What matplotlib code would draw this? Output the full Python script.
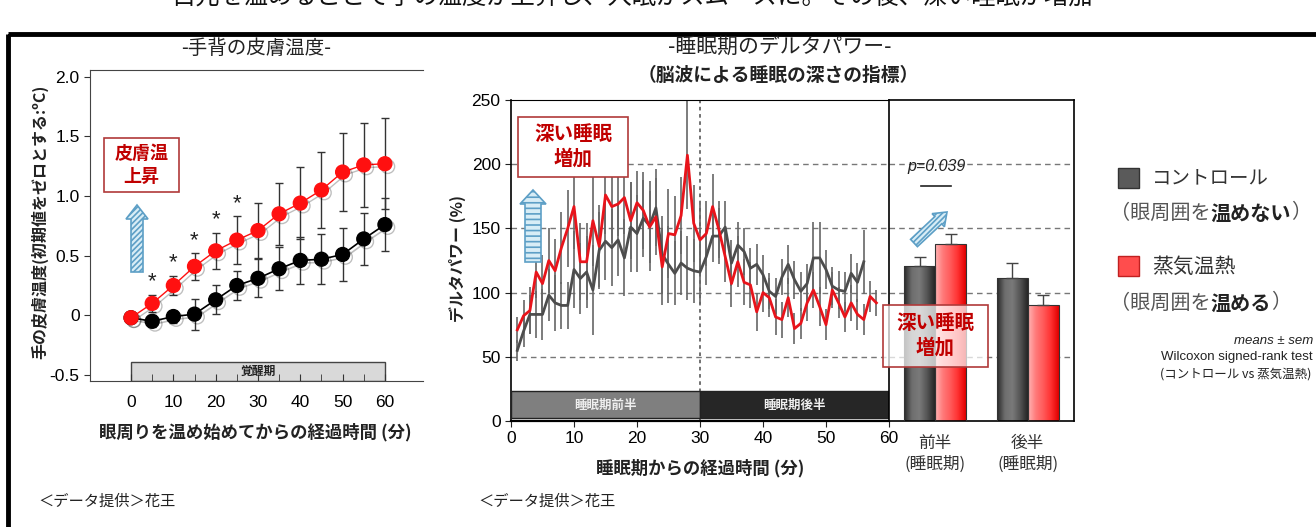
import matplotlib
matplotlib.use('Agg')
import matplotlib.pyplot as plt
import matplotlib.patches as mpatches
import matplotlib.patheffects as pe
from matplotlib.colors import LinearSegmentedColormap
import numpy as np

plt.rcParams['font.family'] = ['Noto Sans CJK JP', 'DejaVu Sans']
plt.rcParams['hatch.linewidth'] = 1.2

# ---- left chart: hand skin temperature ----
temp_min = [0, 5, 10, 15, 20, 25, 30, 35, 40, 45, 50, 55, 60]
steam_temp = [-0.02, 0.10, 0.25, 0.41, 0.54, 0.63, 0.71, 0.85, 0.94, 1.05, 1.20, 1.26, 1.27]
steam_temp_err = [0.0, 0.07, 0.08, 0.11, 0.15, 0.20, 0.23, 0.26, 0.30, 0.32, 0.33, 0.35, 0.38]
ctrl_temp = [-0.02, -0.05, -0.01, 0.01, 0.13, 0.25, 0.31, 0.39, 0.46, 0.47, 0.51, 0.64, 0.76]
ctrl_temp_err = [0.0, 0.05, 0.05, 0.13, 0.12, 0.12, 0.16, 0.18, 0.20, 0.21, 0.22, 0.22, 0.22]
star_idx = [1, 2, 3, 4, 5]
temp_yticks = [-0.5, 0, 0.5, 1.0, 1.5, 2.0]
temp_ylabels = ['-0.5', '0', '0.5', '1.0', '1.5', '2.0']

# ---- middle chart: delta power per minute ----
steam_min = np.arange(1, 59)
steam_delta = [71, 82, 86, 116, 107, 125, 117, 135, 150, 167,
               124, 124, 156, 136, 176, 167, 169, 174, 156, 170,
               164, 151, 159, 120, 146, 145, 160, 207, 154, 141,
               146, 167, 149, 128, 107, 124, 108, 106, 85, 100,
               96, 81, 79, 96, 72, 76, 92, 102, 89, 75,
               102, 92, 81, 92, 83, 79, 97, 92]
steam_delta_err = [10, 12, 18, 20, 22, 25, 25, 28, 30, 33,
                   30, 30, 35, 32, 30, 28, 25, 28, 30, 25,
                   30, 28, 30, 30, 35, 30, 30, 42, 30, 28,
                   25, 25, 22, 20, 18, 20, 18, 18, 15, 15,
                   15, 14, 14, 15, 12, 12, 14, 14, 15, 12,
                   14, 12, 12, 14, 12, 12, 12, 10]
ctrl_min = np.arange(1, 57)
ctrl_delta = [55, 70, 83, 83, 83, 98, 92, 90, 90, 118,
              111, 116, 102, 133, 140, 135, 141, 127, 151, 146,
              158, 152, 166, 130, 122, 115, 123, 119, 117, 116,
              128, 144, 144, 151, 123, 137, 132, 119, 122, 114,
              101, 97, 112, 122, 110, 101, 107, 127, 127, 118,
              105, 102, 101, 115, 108, 124]
ctrl_delta_err = [8, 12, 15, 18, 20, 20, 22, 18, 18, 30,
                  28, 28, 35, 30, 30, 30, 28, 30, 35, 30,
                  30, 35, 30, 30, 30, 25, 25, 25, 25, 25,
                  22, 20, 22, 20, 18, 18, 18, 16, 16, 15,
                  14, 14, 14, 15, 15, 15, 15, 28, 28, 15,
                  15, 15, 15, 15, 15, 25]

# ---- bar panel: half averages ----
half_labels = ['前半\n(睡眠期)', '後半\n(睡眠期)']
ctrl_half = [121, 111]
ctrl_half_err = [7, 12]
steam_half = [138, 90]
steam_half_err = [8, 8]

RED = '#ff1010'
fig = plt.figure(figsize=(13.16, 5.27), dpi=100)
W, H = 1316, 527


def box(l, t, r, b):
    return [l / W, 1 - b / H, (r - l) / W, (b - t) / H]


# ================= left chart =================
ax1 = fig.add_axes(box(90, 70, 423, 381))
shadow = [pe.SimpleLineShadow(offset=(2, -2), alpha=0.25), pe.Normal()]
ax1.errorbar(temp_min, ctrl_temp, yerr=ctrl_temp_err, fmt='none', ecolor='#333', elinewidth=1, capsize=3, zorder=2)
ax1.errorbar(temp_min, steam_temp, yerr=steam_temp_err, fmt='none', ecolor='#333', elinewidth=1, capsize=3, zorder=2)
ax1.plot(temp_min, ctrl_temp, '-o', color='black', ms=10, lw=1.2, zorder=3, path_effects=shadow)
ax1.plot(temp_min, steam_temp, '-o', color=RED, mfc=RED, mec=RED, ms=10, lw=1, zorder=4, path_effects=shadow)
for i in star_idx:
    ax1.text(temp_min[i], steam_temp[i] + steam_temp_err[i] + 0.02, '*', ha='center', va='bottom',
             fontsize=16, color='#222', family=['Liberation Sans', 'DejaVu Sans'])
ax1.add_patch(mpatches.Rectangle((0, -0.55), 60, 0.16, facecolor='#d9d9d9', edgecolor='#444', lw=1, zorder=1))
ax1.text(30, -0.47, '覚醒期', ha='center', va='center', fontsize=8.5, fontweight='bold', color='#222')
ax1.set_xlim(-9.7, 69)
ax1.set_ylim(-0.55, 2.055)
ax1.set_xticks([0, 10, 20, 30, 40, 50, 60])
ax1.set_xticks(temp_min, minor=True)
ax1.set_yticks(temp_yticks)
ax1.set_yticklabels(temp_ylabels)
ax1.tick_params(axis='x', which='both', direction='in', length=5, labelsize=12.5, pad=10, color='#333')
ax1.tick_params(axis='y', direction='out', length=4, labelsize=12.5, color='#333')
for lab in ax1.get_xticklabels() + ax1.get_yticklabels():
    lab.set_family(['Liberation Sans', 'DejaVu Sans'])
ax1.spines['right'].set_visible(False)
for s in ['left', 'top', 'bottom']:
    ax1.spines[s].set_color('#444')

# ================= middle chart =================
ax2 = fig.add_axes(box(511, 100, 889, 421))
for g in [50, 100, 150, 200]:
    ax2.axhline(g, color='#777', lw=1, ls=(0, (4, 3)), zorder=0)
ax2.axvline(30, color='#666', lw=1.3, ls=(0, (2, 2)), zorder=1)
ax2.vlines(ctrl_min, np.array(ctrl_delta) - ctrl_delta_err, np.array(ctrl_delta) + ctrl_delta_err,
           color='#666', lw=1.2, zorder=2)
ax2.vlines(steam_min, np.array(steam_delta) - steam_delta_err, np.array(steam_delta) + steam_delta_err,
           color='#666', lw=1.2, zorder=2)
ax2.plot(ctrl_min, ctrl_delta, color='#4d4d4d', lw=2, zorder=3)
ax2.plot(steam_min, steam_delta, color='#e8141b', lw=2, zorder=4)
ax2.add_patch(mpatches.Rectangle((0, 2), 30, 21, facecolor='#7f7f7f', edgecolor='#222', lw=1, zorder=5))
ax2.add_patch(mpatches.Rectangle((30, 2), 30, 21, facecolor='#262626', edgecolor='#222', lw=1, zorder=5))
ax2.text(15, 12.5, '睡眠期前半', ha='center', va='center', color='#eee', fontsize=9, fontweight='bold', zorder=6)
ax2.text(45, 12.5, '睡眠期後半', ha='center', va='center', color='#eee', fontsize=9, fontweight='bold', zorder=6)
ax2.set_xlim(0, 60)
ax2.set_ylim(0, 250)
ax2.set_xticks([0, 10, 20, 30, 40, 50, 60])
ax2.set_yticks([0, 50, 100, 150, 200, 250])
ax2.tick_params(axis='both', direction='out', length=4, labelsize=12.5, color='#222')
for lab in ax2.get_xticklabels() + ax2.get_yticklabels():
    lab.set_family(['Liberation Sans', 'DejaVu Sans'])
ax2.spines['right'].set_visible(False)
ax2.spines['bottom'].set_linewidth(1.6)
ax2.spines['left'].set_linewidth(1.2)

# ================= bar panel =================
ax3 = fig.add_axes(box(889, 100, 1074, 421))
for g in [50, 100, 150, 200]:
    ax3.axhline(g, color='#777', lw=1, ls=(0, (4, 3)), zorder=0)
ctrl_pos = np.array([1, 4])
steam_pos = ctrl_pos + 1
b_ctrl = ax3.bar(ctrl_pos, ctrl_half, width=1, facecolor='none', edgecolor='#333', lw=0.8, zorder=3)
b_steam = ax3.bar(steam_pos, steam_half, width=1, facecolor='none', edgecolor='#333', lw=0.8, zorder=3)


def shade(bars, cols):
    cmap = LinearSegmentedColormap.from_list('g', cols)
    grad = np.linspace(0, 1, 64).reshape(1, -1)
    for b in bars:
        x0, y0 = b.get_xy()
        im = ax3.imshow(grad, cmap=cmap, extent=(x0, x0 + b.get_width(), y0, y0 + b.get_height()),
                        aspect='auto', zorder=2, interpolation='bicubic')
        im.set_clip_path(b)


shade(b_ctrl, ['#2a2a2a', '#6e6e6e', '#7a7a7a', '#555555', '#262626'])
shade(b_steam, ['#ffb4b4', '#ff7a7a', '#ff5a5a', '#ff3030', '#e00000'])
ax3.errorbar(ctrl_pos, ctrl_half, yerr=[[0, 0], ctrl_half_err], fmt='none', ecolor='#444', elinewidth=1, capsize=4, zorder=4)
ax3.errorbar(steam_pos, steam_half, yerr=[[0, 0], steam_half_err], fmt='none', ecolor='#444', elinewidth=1, capsize=4, zorder=4)
ax3.set_xlim(0, 6)
ax3.set_ylim(0, 250)
ax3.set_yticks([])
ax3.set_xticks([1.5, 4.5])
ax3.set_xticklabels(half_labels, fontsize=12, color='#333', linespacing=1.3)
ax3.tick_params(axis='x', length=0, pad=10)
for s in ax3.spines.values():
    s.set_linewidth(1.2)

# ================= overlay (titles, notes, legend) =================
ov = fig.add_axes([0, 0, 1, 1], zorder=10)
ov.set_xlim(0, W)
ov.set_ylim(H, 0)
ov.axis('off')

ov.add_patch(mpatches.Rectangle((8, 34), 1340, 520, fill=False, edgecolor='black', lw=3.5))
ov.text(632, -2, '目元を温めることで手の温度が上昇し、入眠がスムーズに。その後、深い睡眠が増加',
        ha='center', va='center', fontsize=17.5, color='#111')

ov.text(256, 48, '-手背の皮膚温度-', ha='center', va='center', fontsize=14, color='#222')
ov.text(780, 47, '-睡眠期のデルタパワー-', ha='center', va='center', fontsize=15, color='#222')
ov.text(778, 75, '（脳波による睡眠の深さの指標）', ha='center', va='center', fontsize=13.5, fontweight='bold', color='#222')

ov.text(40, 222, '手の皮膚温度(初期値をゼロとする:ºC)', rotation=90, ha='center', va='center', fontsize=11.5,
        fontweight='bold', color='#222')
ov.text(255, 432, '眼周りを温め始めてからの経過時間 (分)', ha='center', va='center', fontsize=12.5,
        fontweight='bold', color='#222')
ov.text(457, 258, 'デルタパワー (%)', rotation=90, ha='center', va='center', fontsize=11.5,
        fontweight='bold', color='#222')
ov.text(700, 468, '睡眠期からの経過時間 (分)', ha='center', va='center', fontsize=12.5,
        fontweight='bold', color='#222')

# annotation boxes
ov.add_patch(mpatches.Rectangle((104, 138), 75, 54, facecolor='white', edgecolor='#b03a3a', lw=1.2))
ov.text(141.5, 165, '皮膚温\n上昇', ha='center', va='center', fontsize=13, fontweight='bold',
        color='#c00000', linespacing=1.3)
ov.add_patch(mpatches.Rectangle((518, 117), 110, 60, facecolor='white', edgecolor='#b03a3a', lw=1.2))
ov.text(573, 147, '深い睡眠\n増加', ha='center', va='center', fontsize=14, fontweight='bold',
        color='#c00000', linespacing=1.3)
ov.add_patch(mpatches.Rectangle((883, 305), 105, 62, facecolor='white', alpha=0.72, edgecolor='none'))
ov.add_patch(mpatches.Rectangle((883, 305), 105, 62, fill=False, edgecolor='#b03a3a', lw=1.2))
ov.text(935.5, 336, '深い睡眠\n増加', ha='center', va='center', fontsize=14, fontweight='bold',
        color='#c00000', linespacing=1.3)

# hatched arrows
arrow_kw = dict(facecolor='#d8edf6', edgecolor='#5d9fc6', lw=1.2, length_includes_head=True)
ov.add_patch(mpatches.FancyArrow(137, 272, 0, -67, width=12, head_width=22, head_length=14, hatch='//////', **arrow_kw))
ov.add_patch(mpatches.FancyArrow(533, 262, 0, -72, width=16, head_width=26, head_length=14, hatch='---', **arrow_kw))
ov.add_patch(mpatches.FancyArrow(914, 243, 33, -31, width=10, head_width=18, head_length=12, hatch='//////', **arrow_kw))

ov.text(937, 166, 'p=0.039', ha='center', va='center', fontsize=11.5, style='italic', color='#222',
        family=['Liberation Sans', 'DejaVu Sans'])
ov.plot([921, 951], [186, 186], color='#222', lw=1.2)

# legend
ov.add_patch(mpatches.Rectangle((1118, 168), 21, 20, facecolor='#5a5a5a', edgecolor='#333', lw=1))
ov.text(1152, 178, 'コントロール', va='center', fontsize=14, color='#333')
t1 = ov.text(1110, 213, '（眼周囲を', va='center', fontsize=14.5, color='#555')
t2 = ov.annotate('温めない', xy=(1, 0.5), xycoords=t1, va='center', fontsize=14.5, fontweight='bold', color='#222')
ov.annotate('）', xy=(1, 0.5), xycoords=t2, va='center', fontsize=14.5, color='#555')
ov.add_patch(mpatches.Rectangle((1118, 256), 21, 20, facecolor='#ff4d4d', edgecolor='#c02020', lw=1))
ov.text(1152, 267, '蒸気温熱', va='center', fontsize=15, color='#333')
t3 = ov.text(1110, 303, '（眼周囲を', va='center', fontsize=14.5, color='#555')
t4 = ov.annotate('温める', xy=(1, 0.5), xycoords=t3, va='center', fontsize=14.5, fontweight='bold', color='#222')
ov.annotate('）', xy=(1, 0.5), xycoords=t4, va='center', fontsize=14.5, color='#555')

ov.text(1313, 341, 'means ± sem', ha='right', va='center', fontsize=9.5, style='italic', color='#222',
        family=['Liberation Sans', 'DejaVu Sans'])
ov.text(1313, 357, 'Wilcoxon signed-rank test', ha='right', va='center', fontsize=9.5, color='#222',
        family=['Liberation Sans', 'DejaVu Sans'])
ov.text(1311, 374, '(コントロール vs 蒸気温熱)', ha='right', va='center', fontsize=9, color='#222')

ov.text(38, 501, '＜データ提供＞花王', va='center', fontsize=11, color='#222')
ov.text(478, 501, '＜データ提供＞花王', va='center', fontsize=11, color='#222')

fig.savefig('out.png', dpi=100)
